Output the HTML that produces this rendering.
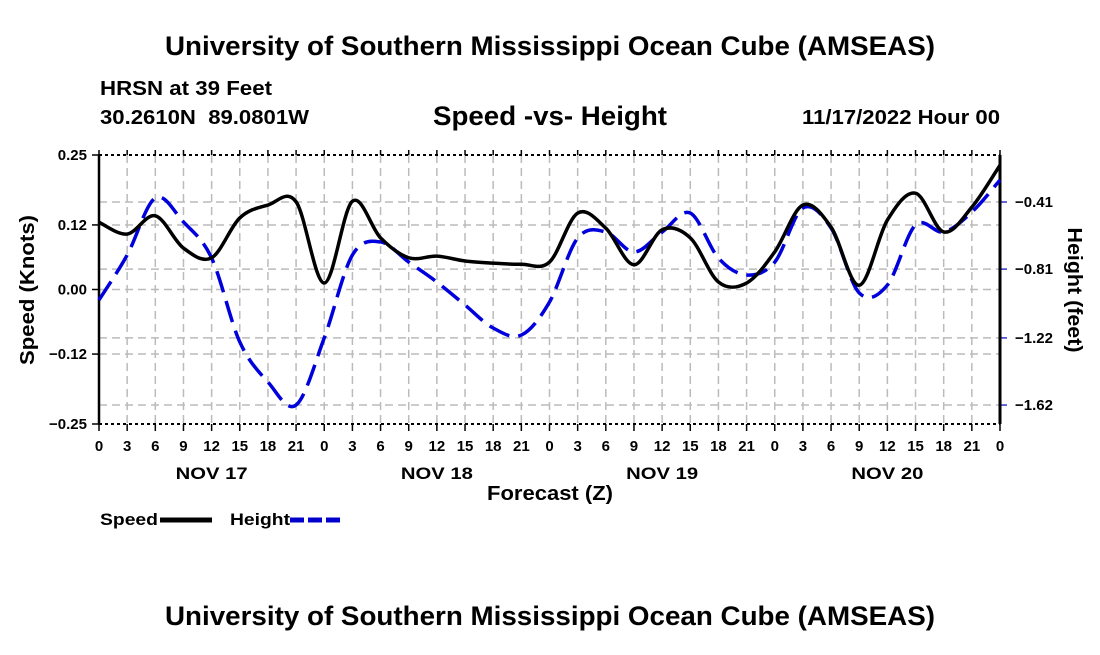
<!DOCTYPE html>
<html><head><meta charset="utf-8"><style>
body{margin:0;background:#fff;width:1100px;height:650px;overflow:hidden;font-family:"Liberation Sans",sans-serif}
svg text{font-family:"Liberation Sans",sans-serif;font-weight:bold}
</style></head><body>
<svg id="chart" width="1100" height="650" xmlns="http://www.w3.org/2000/svg">
<text x="550" y="55" font-size="27" text-anchor="middle" textLength="770" lengthAdjust="spacingAndGlyphs">University of Southern Mississippi Ocean Cube (AMSEAS)</text>
<text x="100" y="95" font-size="20" textLength="172" lengthAdjust="spacingAndGlyphs">HRSN at 39 Feet</text>
<text x="100" y="124" font-size="20" xml:space="preserve" textLength="209" lengthAdjust="spacingAndGlyphs">30.2610N  89.0801W</text>
<text x="550" y="125" font-size="27" text-anchor="middle" textLength="234" lengthAdjust="spacingAndGlyphs">Speed -vs- Height</text>
<text x="1000" y="124" font-size="20" text-anchor="end" textLength="198" lengthAdjust="spacingAndGlyphs">11/17/2022 Hour 00</text>
<g id="grid"></g><g id="axes"></g><g id="series"></g>
<text transform="translate(34,290) rotate(-90)" font-size="20" text-anchor="middle" textLength="150" lengthAdjust="spacingAndGlyphs">Speed (Knots)</text>
<text transform="translate(1068,290) rotate(90)" font-size="20" text-anchor="middle" textLength="125" lengthAdjust="spacingAndGlyphs">Height (feet)</text>
<text x="550" y="500" font-size="20" text-anchor="middle" textLength="126" lengthAdjust="spacingAndGlyphs">Forecast (Z)</text>
<g><text x="100" y="525" font-size="17" textLength="58" lengthAdjust="spacingAndGlyphs">Speed</text><line x1="160" y1="520" x2="212" y2="520" stroke="#000" stroke-width="5"/></g>
<g><text x="230" y="525" font-size="17" textLength="60" lengthAdjust="spacingAndGlyphs">Height</text><line x1="290" y1="520" x2="342" y2="520" stroke="#00c" stroke-width="5" stroke-dasharray="14,4"/></g>
<text x="550" y="625" font-size="27" text-anchor="middle" textLength="770" lengthAdjust="spacingAndGlyphs">University of Southern Mississippi Ocean Cube (AMSEAS)</text>
</svg>
<script>
const hours=[0,3,6,9,12,15,18,21,24,27,30,33,36,39,42,45,48,51,54,57,60,63,66,69,72,75,78,81,84,87,90,93,96];
const hourLabels=["0","3","6","9","12","15","18","21","0","3","6","9","12","15","18","21","0","3","6","9","12","15","18","21","0","3","6","9","12","15","18","21","0"];
const dayLabels=["NOV 17","NOV 18","NOV 19","NOV 20"];
const dayHours=[12,36,60,84];
const speed=[0.125,0.103,0.137,0.077,0.059,0.133,0.157,0.163,0.012,0.164,0.096,0.059,0.062,0.053,0.049,0.047,0.051,0.142,0.114,0.046,0.111,0.096,0.014,0.012,0.070,0.157,0.116,0.008,0.129,0.179,0.107,0.153,0.231];
const height=[-0.994,-0.726,-0.386,-0.529,-0.744,-1.244,-1.483,-1.62,-1.22,-0.726,-0.648,-0.768,-0.887,-1.024,-1.161,-1.203,-1.006,-0.625,-0.589,-0.708,-0.589,-0.476,-0.744,-0.845,-0.768,-0.446,-0.565,-0.952,-0.905,-0.547,-0.589,-0.470,-0.279];
const leftTicks=[0.25,0.12,0.00,-0.12,-0.25];
const leftTickLabels=["0.25","0.12","0.00","\u22120.12","\u22120.25"];
const rightTicks=[-0.41,-0.81,-1.22,-1.62];
const rightTickLabels=["\u22120.41","\u22120.81","\u22121.22","\u22121.62"];
const X0=99,X1=1000,Y0=155,Y1=424;
const xs=h=>X0+(h/96)*(X1-X0);
const yL=v=>Y0+(0.25-v)*538;
const yR=v=>202+(-0.41-v)*167.8;
const NS="http://www.w3.org/2000/svg";
function mk(tag,attrs,parent){const e=document.createElementNS(NS,tag);for(const k in attrs)e.setAttribute(k,attrs[k]);parent.appendChild(e);return e;}
const grid=document.getElementById('grid'),axes=document.getElementById('axes'),ser=document.getElementById('series');
hours.forEach((h,i)=>{
 const l=mk('line',{x1:xs(h),x2:xs(h),y1:Y0,y2:Y1,stroke:'#bbb','stroke-width':1.5,'stroke-dasharray':'8,5'},grid);
 
 
 const t=mk('line',{x1:xs(h),x2:xs(h),y1:Y1,y2:Y1+7,stroke:'#000','stroke-width':1.5},axes);
 
 
 const tt=mk('line',{x1:xs(h),x2:xs(h),y1:Y0-5,y2:Y0,stroke:'#000','stroke-width':1.5},axes);
 
 
 const lb=mk('text',{x:xs(h),y:451,'font-size':15,'text-anchor':'middle'},axes);lb.textContent=hourLabels[i];
 
 
});
dayLabels.forEach((d,i)=>{const t=mk('text',{x:xs(dayHours[i]),y:479,'font-size':17,'text-anchor':'middle',textLength:72,lengthAdjust:'spacingAndGlyphs'},axes);t.textContent=d;
 
 });
leftTicks.forEach((v,i)=>{
 if(i>0&&i<leftTicks.length-1){const g=mk('line',{x1:X0,x2:X1,y1:yL(v),y2:yL(v),stroke:'#bbb','stroke-width':1.5,'stroke-dasharray':'8,5'},grid);
 
 }
 const t=mk('line',{x1:X0-7,x2:X0,y1:yL(v),y2:yL(v),stroke:'#000','stroke-width':1.5},axes);
 
 
 const lb=mk('text',{x:X0-12,y:yL(v)+5,'font-size':15,'text-anchor':'end'},axes);lb.textContent=leftTickLabels[i];
 
 
});
rightTicks.forEach((v,i)=>{
 const g=mk('line',{x1:X0,x2:X1,y1:yR(v),y2:yR(v),stroke:'#bbb','stroke-width':1.5,'stroke-dasharray':'8,5'},grid);
 
 
 const t=mk('line',{x1:X1,x2:X1+7,y1:yR(v),y2:yR(v),stroke:'#33c','stroke-width':1.5},axes);
 
 
 const lb=mk('text',{x:X1+15,y:yR(v)+5,'font-size':15},axes);lb.textContent=rightTickLabels[i];
 
 
});
const a1=mk('line',{x1:X0,x2:X0,y1:Y0,y2:Y1,stroke:'#000','stroke-width':2.5},axes);


const a2=mk('line',{x1:X1,x2:X1,y1:Y0,y2:Y1,stroke:'#000','stroke-width':3},axes);


const a3=mk('line',{x1:X0,x2:X1,y1:Y0,y2:Y0,stroke:'#000','stroke-width':2,'stroke-dasharray':'3,3'},axes);


const a4=mk('line',{x1:X0,x2:X1,y1:Y1,y2:Y1,stroke:'#000','stroke-width':2,'stroke-dasharray':'3,3'},axes);


function curve(pts){let d=`M${pts[0][0]},${pts[0][1]}`;for(let i=0;i<pts.length-1;i++){const p0=pts[Math.max(0,i-1)],p1=pts[i],p2=pts[i+1],p3=pts[Math.min(pts.length-1,i+2)];
 d+=` C${p1[0]+(p2[0]-p0[0])/6},${p1[1]+(p2[1]-p0[1])/6} ${p2[0]-(p3[0]-p1[0])/6},${p2[1]-(p3[1]-p1[1])/6} ${p2[0]},${p2[1]}`;}return d;}
const hp=mk('path',{d:curve(hours.map((h,i)=>[xs(h),yR(height[i])])),fill:'none',stroke:'#0000dd','stroke-width':3.5,'stroke-dasharray':'22,9'},ser);


const sp=mk('path',{d:curve(hours.map((h,i)=>[xs(h),yL(speed[i])])),fill:'none',stroke:'#000','stroke-width':3.5},ser);


</script>
</body></html>
